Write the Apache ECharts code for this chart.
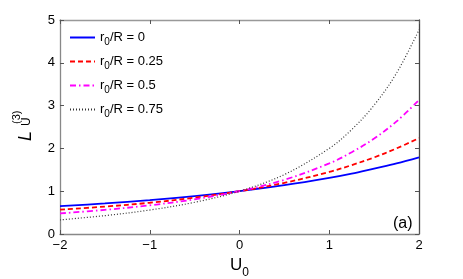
<!DOCTYPE html>
<html><head><meta charset="utf-8">
<script src="https://cdn.jsdelivr.net/npm/echarts@6/dist/echarts.min.js"></script>
<style>html,body{margin:0;padding:0;background:#fff}#c{width:463px;height:279px}</style>
</head><body><div id="c"></div>
<script>
// Data
const u0Values = [-2, -1.5, -1, -0.5, 0, 0.5, 1, 1.25, 1.5, 1.75, 2];
const seriesNames = ['r0/R = 0', 'r0/R = 0.25', 'r0/R = 0.5', 'r0/R = 0.75'];
const ratio0    = [0.65, 0.714, 0.79, 0.885, 1, 1.14, 1.31, 1.41, 1.53, 1.65, 1.79];
const ratio025  = [0.57, 0.64, 0.73, 0.85, 1, 1.195, 1.45, 1.61, 1.79, 2.0, 2.24];
const ratio05   = [0.48, 0.564, 0.67, 0.81, 1, 1.266, 1.65, 1.91, 2.23, 2.63, 3.13];
const ratio075  = [0.33, 0.429, 0.56, 0.741, 1, 1.389, 2.0, 2.44, 3.01, 3.76, 4.77];

const font = 'Liberation Sans, Arial, sans-serif';
const pairs = arr => u0Values.map((u, i) => [u, arr[i]]);
const styles = [
  {color: '#0000ff', type: 'solid', width: 1.8},
  {color: '#ff0000', type: [5, 3], width: 1.8},
  {color: '#ff00ff', type: [6, 3, 1.5, 3], width: 1.8},
  {color: '#333333', type: [1, 2], width: 1.2}
];
const allData = [ratio0, ratio025, ratio05, ratio075];

const chart = echarts.init(document.getElementById('c'), null, {renderer: 'canvas'});
const axisLine = c => ({show: true, onZero: false, lineStyle: {color: c, width: 1.3}});
const tick = {show: true, inside: true, length: 4, lineStyle: {color: '#555', width: 1}};
chart.setOption({
  animation: false,
  backgroundColor: '#fff',
  grid: {left: 60, right: 44, top: 20, bottom: 45, containLabel: false, outerBoundsMode: 'none'},
  legend: {
    orient: 'vertical', left: 64, top: 26, itemWidth: 25, itemHeight: 12, itemGap: 8,
    data: seriesNames,
    itemStyle: {opacity: 0},
    formatter: n => '{n|r}{s|0}{n|' + n.slice(2) + '}',
    textStyle: {fontFamily: font, fontSize: 13, color: '#000',
      rich: {n: {fontFamily: font, fontSize: 13, color: '#000'},
             s: {fontFamily: font, fontSize: 10, color: '#000', padding: [9, 0, 0, 0]}}}
  },
  xAxis: [
    {type: 'value', min: -2, max: 2, interval: 1, position: 'bottom',
     axisLine: axisLine('#888'), axisTick: tick, splitLine: {show: false},
     axisLabel: {fontFamily: font, fontSize: 13, color: '#000', margin: 5,
       formatter: v => (v < 0 ? '\u2212' + Math.abs(v) : String(v))},
     name: '{u|U}{s|0}', nameLocation: 'middle', nameGap: 13,
     nameTextStyle: {rich: {u: {fontFamily: font, fontSize: 17, color: '#000'},
                            s: {fontFamily: font, fontSize: 12, color: '#000', padding: [14, 0, 0, 0]}}}},
    {type: 'value', min: -2, max: 2, interval: 1, position: 'top',
     axisLine: axisLine('#999'), axisTick: tick, axisLabel: {show: false}, splitLine: {show: false}}
  ],
  yAxis: [
    {type: 'value', min: 0, max: 5, interval: 1, position: 'left',
     axisLine: axisLine('#888'), axisTick: tick, splitLine: {show: false},
     axisLabel: {fontFamily: font, fontSize: 13, color: '#000', margin: 5}},
    {type: 'value', min: 0, max: 5, interval: 1, position: 'right',
     axisLine: axisLine('#444'), axisTick: tick, axisLabel: {show: false}, splitLine: {show: false}}
  ],
  series: allData.map((d, i) => ({
    name: seriesNames[i], type: 'line', data: pairs(d), smooth: 0.35,
    symbol: 'none', lineStyle: styles[i], itemStyle: {color: styles[i].color}
  })),
  graphic: [
    {type: 'text', left: 393, top: 216, style: {text: '(a)', fontFamily: font, fontSize: 16, fill: '#000'}},
    {type: 'text', x: 17, y: 141, rotation: Math.PI / 2,
     style: {text: 'L', fontFamily: font, fontSize: 18, fontStyle: 'italic', fill: '#000'}},
    {type: 'text', x: 11, y: 124, rotation: Math.PI / 2,
     style: {text: '(3)', fontFamily: font, fontSize: 11, fill: '#000'}},
    {type: 'text', x: 21, y: 126, rotation: Math.PI / 2,
     style: {text: 'U', fontFamily: font, fontSize: 12, fill: '#000'}}
  ]
});
</script></body></html>
